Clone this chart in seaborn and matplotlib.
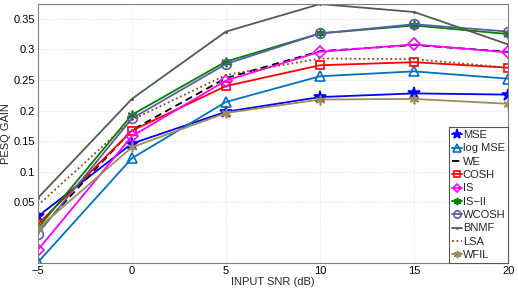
import numpy as np
import pandas as pd
import seaborn as sns
from matplotlib import pyplot as plt

# input SNR levels (dB)
snr = [-5, 0, 5, 10, 15, 20]

# PESQ gain per method
mse = [0.027, 0.146, 0.198, 0.222, 0.228, 0.226]
log_mse = [-0.048, 0.122, 0.214, 0.256, 0.264, 0.252]
we = [0.003, 0.168, 0.253, 0.297, 0.307, 0.296]
cosh = [0.014, 0.167, 0.240, 0.274, 0.279, 0.270]
is_div = [-0.028, 0.158, 0.249, 0.296, 0.308, 0.295]
is_ii = [0.008, 0.193, 0.280, 0.326, 0.339, 0.325]
wcosh = [-0.001, 0.187, 0.276, 0.326, 0.341, 0.329]
bnmf = [0.057, 0.219, 0.329, 0.374, 0.361, 0.308]
lsa = [0.045, 0.185, 0.258, 0.285, 0.284, 0.270]
wfil = [0.007, 0.140, 0.196, 0.218, 0.219, 0.211]

names = ["MSE", "log MSE", "WE", "COSH", "IS", "IS\u2212II", "WCOSH", "BNMF", "LSA", "WFIL"]
series = [mse, log_mse, we, cosh, is_div, is_ii, wcosh, bnmf, lsa, wfil]

asterisk = (6, 2, 0)
styles = {
    "MSE": dict(color="#0000ff", marker="*", ls="-", ms=9, mfc="#0000ff"),
    "log MSE": dict(color="#0072bd", marker="^", ls="-", ms=7, mfc="none"),
    "WE": dict(color="black", marker=None, ls=(0, (4, 2.5)), ms=0, mfc="none"),
    "COSH": dict(color="#ff0000", marker="s", ls="-", ms=6, mfc="none"),
    "IS": dict(color="#ff00ff", marker="D", ls="-", ms=6, mfc="none"),
    "IS\u2212II": dict(color="#008000", marker=asterisk, ls="-", ms=7, mfc="none"),
    "WCOSH": dict(color="#5b5ba8", marker="o", ls="-", ms=7, mfc="none"),
    "BNMF": dict(color="#4e5e4e", marker=".", ls="-", ms=2, mfc="#4e5e4e"),
    "LSA": dict(color="#8c4a1a", marker=None, ls=(0, (1, 1.5)), ms=0, mfc="none"),
    "WFIL": dict(color="#a08c5a", marker=asterisk, ls="-", ms=7, mfc="none"),
}

df = pd.DataFrame({"snr": snr * len(names),
                   "gain": np.concatenate(series),
                   "method": np.repeat(names, len(snr))})

sns.set_style("white")
plt.rcParams["font.family"] = ["Liberation Sans", "DejaVu Sans"]

fig = plt.figure(figsize=(5.18, 2.88), dpi=100)
ax = fig.add_axes([0.073, 0.087, 0.908, 0.899])

for name in names:
    st = styles[name]
    sns.lineplot(data=df[df.method == name], x="snr", y="gain", ax=ax,
                 color=st["color"], linestyle=st["ls"], lw=1.3,
                 marker=st["marker"], markersize=st["ms"],
                 markerfacecolor=st["mfc"], markeredgecolor=st["color"],
                 markeredgewidth=1.2, label=name)

ax.set_xlim(-5, 20)
ax.set_ylim(-0.049, 0.374)
ax.set_xticks([-5, 0, 5, 10, 15, 20])
ax.set_xticklabels(["\u22125", "0", "5", "10", "15", "20"])
ax.set_yticks([0.05, 0.1, 0.15, 0.2, 0.25, 0.3, 0.35])
ax.set_yticklabels(["0.05", "0.1", "0.15", "0.2", "0.25", "0.3", "0.35"])
ax.tick_params(direction="in", labelsize=8, length=3, pad=2, colors="#333333")
for lbl in ax.get_xticklabels() + ax.get_yticklabels():
    lbl.set_color("black")
ax.grid(True, ls=":", color="#dddddd", lw=0.6)
for sp in ax.spines.values():
    sp.set_color("#808080")
    sp.set_linewidth(0.8)

ax.set_xlabel("INPUT SNR (dB)", fontsize=8)
ax.xaxis.set_label_coords(0.5, -0.055)
ax.set_ylabel("PESQ GAIN", fontsize=8)
ax.yaxis.set_label_coords(-0.057, 0.5)

leg = ax.legend(loc="lower right", fontsize=8, frameon=True, fancybox=False,
                borderaxespad=0, handlelength=0.9, handletextpad=0.1,
                borderpad=0.25, labelspacing=0.3, framealpha=1, markerscale=0.75)
leg.get_frame().set_edgecolor("#555555")
leg.get_frame().set_linewidth(0.8)

fig.savefig("out.png", dpi=100)
